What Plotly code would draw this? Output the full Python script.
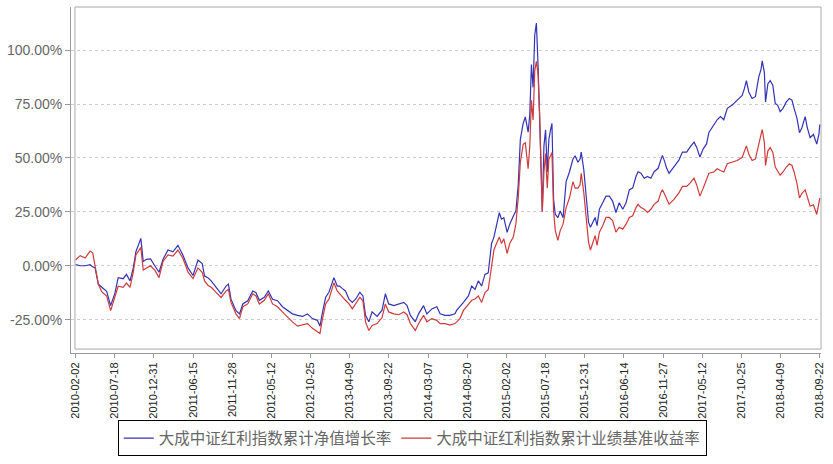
import plotly.graph_objects as go

dates = [
    "2010-02-02","2010-02-22","2010-03-15","2010-04-05","2010-04-16","2010-04-26","2010-05-10","2010-05-24","2010-06-14","2010-07-01",
    "2010-07-19","2010-08-02","2010-08-23","2010-09-06","2010-09-21","2010-10-05","2010-10-16","2010-11-06","2010-11-16","2010-11-30",
    "2010-12-17","2011-01-04","2011-01-22","2011-02-08","2011-03-01","2011-03-22","2011-04-12","2011-05-03","2011-05-25","2011-06-15",
    "2011-07-06","2011-07-24",
    "2011-08-03","2011-08-17","2011-08-31","2011-09-21","2011-10-12","2011-11-02","2011-11-12","2011-11-23","2011-12-14","2011-12-29",
    "2012-01-12","2012-02-02","2012-02-23","2012-03-08","2012-03-22","2012-04-12","2012-04-29","2012-05-17","2012-06-07","2012-06-28",
    "2012-07-19","2012-08-09","2012-08-31","2012-09-21","2012-10-12","2012-11-02","2012-11-23","2012-12-04","2012-12-14","2012-12-28",
    "2013-01-11","2013-02-01","2013-02-15","2013-02-25","2013-03-08","2013-03-22","2013-04-06","2013-04-20","2013-05-04","2013-05-22",
    "2013-06-04","2013-06-15","2013-06-29","2013-07-13","2013-08-03","2013-08-24","2013-09-07","2013-09-21","2013-10-13","2013-11-03",
    "2013-11-24","2013-12-08","2013-12-22","2014-01-12","2014-01-26","2014-02-16","2014-03-02","2014-03-23","2014-04-13","2014-04-27",
    "2014-05-18","2014-06-08","2014-06-29",
    "2014-07-06","2014-07-20","2014-08-04","2014-08-25","2014-09-08","2014-09-22","2014-10-06","2014-10-20","2014-11-03","2014-11-17",
    "2014-12-01","2014-12-11","2014-12-22","2015-01-03","2015-01-12","2015-01-22","2015-02-05","2015-02-16","2015-03-03","2015-03-14",
    "2015-03-24","2015-04-02","2015-04-14","2015-04-23","2015-05-05","2015-05-12","2015-05-19","2015-05-26","2015-06-02","2015-06-09",
    "2015-06-16","2015-06-23","2015-06-30","2015-07-04","2015-07-11","2015-07-18","2015-07-25","2015-08-01","2015-08-08","2015-08-14",
    "2015-08-21","2015-08-28","2015-09-08","2015-09-18","2015-09-30","2015-10-13","2015-10-27","2015-11-11","2015-11-20","2015-12-02",
    "2015-12-11",
    "2015-12-16","2015-12-27","2016-01-06","2016-01-16","2016-01-24","2016-02-03","2016-02-13","2016-02-21","2016-03-02","2016-03-16",
    "2016-03-30","2016-04-13","2016-04-27","2016-05-11","2016-05-25","2016-06-09","2016-06-23","2016-07-07","2016-07-21","2016-08-04",
    "2016-08-13","2016-08-25","2016-09-08","2016-09-22","2016-10-06","2016-10-20","2016-11-06","2016-11-17","2016-11-24","2016-12-04",
    "2016-12-12","2016-12-22","2017-01-12","2017-02-02","2017-02-17","2017-03-07","2017-03-21","2017-04-07","2017-04-18","2017-05-02",
    "2017-05-16","2017-05-30","2017-06-09",
    "2017-06-30","2017-07-14","2017-07-28","2017-08-11","2017-08-26","2017-09-16","2017-10-07","2017-10-28","2017-11-06","2017-11-15",
    "2017-11-25","2017-12-09","2017-12-23","2018-01-06","2018-01-16","2018-01-21","2018-01-30","2018-02-04","2018-02-14","2018-02-24",
    "2018-03-07","2018-03-17","2018-03-27","2018-04-07","2018-04-19","2018-05-03","2018-05-16","2018-05-27","2018-06-05","2018-06-17",
    "2018-06-28","2018-07-08","2018-07-22","2018-07-31","2018-08-12","2018-08-26","2018-09-09","2018-09-18","2018-09-22",
]

fund_growth = [
    0.5,0,0,0.5,-0.5,-1,-8.6,-10,-11.8,-18.5, -12.7,-5.5,-6,-4,-7,-1,6.5,12.7,2,3,
    3.2,0,-3,3,7.3,6.5,9.5,5,-1,-4.5, 2.7,1,
    -4.8,-5.5,-7,-10,-13,-9.4,-8.5,-15.5,-20.8,-22.3, -17.7,-16.2,-11.7,-12.5,-16,-14.6,-11.7,-15.5,-16.2,-19,
    -20.8,-22.3,-23,-23.5,-22.3,-24.5,-25.3,-28,-22,-14.6,
    -12.3,-5.5,-9.4,-9.4,-10.5,-11.7,-15.5,-17,-15.5,-12.3, -14,-23,-26,-21.4,-23.5,-20.6,-13,-17.7,-18.5,-17.7,
    -17,-18.5,-23,-26,-22.3,-18.5,-22.3,-20,-19,-22.3, -23,-23,-22.3,
    -20.7,-19,-17,-14,-9.4,-11,-7,-9.4,-4,-3.3, 10.3,13.3,19.3,24.6,21.6,22.3,15.5,19.3,23,25.4,
    37.4,58.6,66,69,62,70,93.3,82.7,107,112.6, 93.3,70.7,48,25.4,55.6,63,43.5,58.6,63,66,
    30.7,23.9,22.3,25.4,22.3,39,43.5,49.5,51,48, 49.5,
    52.7,44.4,33.8,20.2,17.9,20.2,22.4,18.6,26.2,29.2, 32.3,32.3,30,24.7,29.2,26.2,29.2,35.3,36,41.4,
    43.6,42.9,40.6,41.4,40.6,43.6,45.2,49,51.2,48.2, 45.2,42.9,46,49,52.7,52.7,55,57.3,55,50.4,
    54.2,56.5,61.8,
    65.5,67.7,69.2,67.7,73,74.5,76.8,79,82,85.9, 80.6,77.6,78.4,87.4,91.2,95,89.7,76,84.4,85.9,
    83.6,75.3,74.5,71.5,73,76,77.6,76.8,73,68.5, 61.7,64,69.2,64,59.4,60.9,56.4,60.9,65.5,
]

benchmark = [
    2.7,4.7,3.6,6.8,6.0,-1,-8.6,-12,-14,-20.8, -14,-9.5,-10,-8,-10,-3,5,8.5,-2,-1,
    0,-2,-5.5,2,5,4.5,7.3,3.5,-3,-6, -1,-3,
    -7,-9,-10,-12.3,-14.7,-11.7,-11,-17,-22.3,-24.5, -19,-17.7,-13,-14,-17.7,-16,-13,-17.7,-19,-21.4,
    -23.8,-26,-28,-27.5,-26.8,-29,-30.5,-31.4,-25,-17.7,
    -15.5,-7.9,-11.7,-13,-14.6,-16,-17.7,-20,-17.7,-14.6, -16.3,-26,-30,-27.7,-26.8,-24,-17.7,-21.4,-22.3,-22.7,
    -21.4,-22.7,-26.8,-30,-26.8,-23,-26,-24.5,-25.3,-26.8, -26.8,-27.5,-26.8,
    -26,-24.5,-20.7,-17.7,-16,-15.4,-14,-17,-12.4,-11, 1.2,7.3,10.3,13.3,10.3,12.5,5.7,10.3,13.3,19.3,
    31.4,48,56.3,57,45,55.6,76.7,67.6,90.3,94.8, 88.8,70,40.5,25,43.5,52,36,49.5,51,52.5,
    25.4,16.3,11.8,16.3,19.3,27,31.4,39,36,36, 37.5,
    42.9,33.8,23.2,11,7.3,11,14,9.5,15.6,18.6, 22.4,22.4,21,15.6,17.9,17,19.3,22.4,23.2,27,
    28.5,27,26.2,24.7,26.2,28.5,30,33.8,35.3,33, 30.8,28.5,30.8,33.8,36.8,36.8,38.3,40.6,37.6,32.3,
    36,39.8,42.9,
    43.5,45,44.2,43.5,47.3,48,48.8,50.3,52.6,55.6, 51.8,48.8,49.5,57.1,60.9,63.2,57.1,46.5,53.3,54.8,
    52.6,45.8,44.2,42,43.5,45.8,47.3,46.5,43.5,38.2, 31.4,33.6,35.2,32,27.6,28.3,23.8,29.1,31.4,
]

names = ["大成中证红利指数累计净值增长率", "大成中证红利指数累计业绩基准收益率"]
y_ticks = [-25, 0, 25, 50, 75, 100]
y_tick_labels = [f"{v:.2f}%" for v in y_ticks]

fig = go.Figure()
fig.add_trace(go.Scatter(x=dates, y=fund_growth, mode="lines", name=names[0],
                         line=dict(color="#3333b5", width=1.2)))
fig.add_trace(go.Scatter(x=dates, y=benchmark, mode="lines", name=names[1],
                         line=dict(color="#d03a3a", width=1.2)))

fig.update_layout(
    width=833, height=464,
    margin=dict(l=68, r=12, t=7, b=104),
    paper_bgcolor="white", plot_bgcolor="white",
    font=dict(family="Liberation Sans, Arial, sans-serif", color="#666"),
    showlegend=True,
    legend=dict(orientation="h", x=0.455, xanchor="center", y=-0.195, yanchor="top",
                bordercolor="#000", borderwidth=1, bgcolor="white",
                font=dict(family="Noto Sans CJK SC", size=15.5, color="#666"),
                itemwidth=30, tracegroupgap=0),
    shapes=[dict(type="rect", xref="paper", yref="paper", x0=4/753, x1=1, y0=4/353, y1=1,
                 line=dict(color="#aaaaaa", width=1), layer="above")],
)
fig.update_xaxes(
    type="date", range=["2010-01-14", "2018-09-27"],
    tick0="2010-02-02", dtick=166*86400000, tickformat="%Y-%m-%d",
    tickangle=-90, tickfont=dict(size=11, color="#222"),
    showgrid=False, zeroline=False,
    showline=True, linecolor="#999", linewidth=1,
    ticks="outside", ticklen=4, tickcolor="#999",
)
fig.update_yaxes(
    range=[-40.45, 120], tickmode="array", tickvals=y_ticks, ticktext=y_tick_labels,
    tickfont=dict(size=14, color="#666"),
    showgrid=True, gridcolor="#cccccc", griddash="3px,3px", gridwidth=1,
    zeroline=False, showline=True, linecolor="#999", linewidth=1,
    ticks="outside", ticklen=5, tickcolor="#999",
)

fig.write_html("out.html")
